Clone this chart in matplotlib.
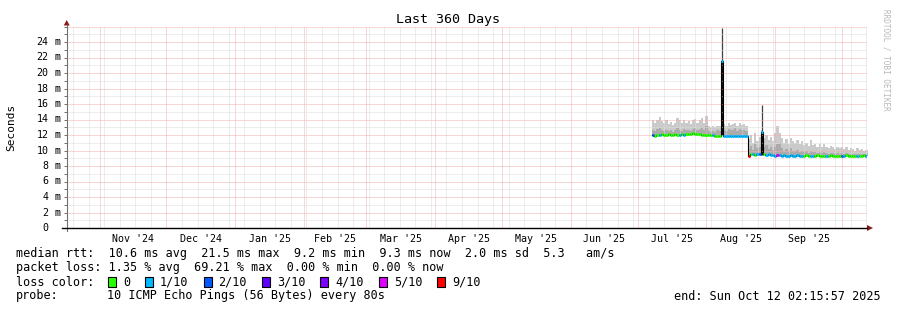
import numpy as np
import matplotlib
matplotlib.use('Agg')
import matplotlib.pyplot as plt
import matplotlib.dates as mdates
from matplotlib.ticker import MultipleLocator, NullFormatter
from matplotlib.patches import Rectangle, Polygon
from matplotlib.lines import Line2D
from matplotlib.transforms import blended_transform_factory

W, H = 897, 310
plt.rcParams['font.family'] = 'DejaVu Sans Mono'

# time window of the graph (360 days)
start = np.datetime64('2024-10-17T02:15:57')
end = np.datetime64('2025-10-12T02:15:57')
first_bin = np.datetime64('2025-07-07T12:00')   # first day with data

# daily median rtt (ms), Jul 7 .. Aug 18 and Aug 19 .. Oct 11
median_jul_aug = [12.0, 11.9, 12.0, 12.0, 12.1, 12.0, 12.0, 12.1, 12.0, 12.0,
                  12.1, 12.0, 12.0, 12.1, 12.0, 12.1, 12.1, 12.1, 12.2, 12.1,
                  12.1, 12.1, 12.0, 12.0, 12.0, 12.0, 12.0, 12.0, 11.9, 11.9,
                  11.9, 21.5, 11.9, 11.9, 11.9, 11.9, 11.9, 11.9, 11.9, 11.9,
                  11.9, 11.9, 11.9]
median_aug_oct = [9.3, 9.5, 9.6, 9.4, 9.5, 9.6, 12.4, 9.5, 9.4, 9.5,
                  9.4, 9.4, 9.3, 9.4, 9.4, 9.3, 9.4, 9.3, 9.3, 9.4,
                  9.3, 9.3, 9.4, 9.3, 9.3, 9.3, 9.4, 9.3, 9.3, 9.3,
                  9.3, 9.4, 9.3, 9.3, 9.3, 9.3, 9.3, 9.4, 9.3, 9.3,
                  9.3, 9.3, 9.3, 9.3, 9.4, 9.3, 9.3, 9.3, 9.3, 9.3,
                  9.3, 9.3, 9.4, 9.3]

# upper edge of the smoke (slowest ping, ms)
smoke_hi_jul_aug = [13.9, 13.6, 14.0, 14.3, 13.8, 13.5, 13.9, 13.4, 13.7, 13.3,
                    13.6, 14.2, 13.9, 13.5, 14.0, 13.6, 13.8, 13.4, 13.9, 14.1,
                    13.6, 14.0, 14.2, 13.5, 14.4, 13.2, 13.0, 13.1, 13.0, 13.2,
                    13.1, 21.5, 13.4, 13.2, 13.5, 13.3, 13.4, 13.6, 13.2, 13.5,
                    13.3, 13.4, 13.2]
smoke_hi_aug_oct = [11.5, 12.0, 11.0, 12.3, 11.2, 11.8, 12.6, 11.6, 12.0, 11.4,
                    11.8, 11.2, 12.3, 13.1, 12.2, 11.6, 11.0, 11.5, 10.9, 11.6,
                    11.2, 11.0, 11.4, 10.8, 11.2, 10.7, 11.0, 10.6, 11.3, 10.7,
                    10.9, 10.5, 10.8, 10.4, 10.9, 10.5, 10.3, 10.6, 10.4, 10.2,
                    10.5, 10.3, 10.4, 10.2, 10.4, 10.1, 10.3, 10.2, 10.0, 10.3,
                    10.1, 10.2, 10.0, 10.1]

# inner (denser) part of the smoke
smoke_mid_jul_aug = [12.6, 12.5, 12.8, 12.9, 12.6, 12.5, 12.7, 12.5, 12.6, 12.4,
                     12.6, 12.9, 12.7, 12.5, 12.8, 12.6, 12.7, 12.5, 12.8, 12.9,
                     12.6, 12.8, 13.0, 12.6, 13.1, 12.5, 12.4, 12.5, 12.4, 12.6,
                     12.5, 21.5, 12.7, 12.5, 12.8, 12.6, 12.7, 12.9, 12.5, 12.8,
                     12.6, 12.7, 12.5]
smoke_mid_aug_oct = [10.2, 10.6, 10.1, 10.8, 10.3, 10.5, 12.4, 10.4, 10.7, 10.2,
                     10.5, 10.1, 10.4, 10.9, 11.0, 10.3, 10.0, 10.2, 9.9, 10.3,
                     10.0, 9.9, 10.1, 9.8, 10.0, 9.8, 9.9, 9.7, 10.0, 9.8,
                     9.8, 9.7, 9.8, 9.7, 9.8, 9.7, 9.6, 9.7, 9.7, 9.6,
                     9.7, 9.6, 9.7, 9.6, 9.7, 9.6, 9.6, 9.6, 9.5, 9.6,
                     9.6, 9.6, 9.5, 9.6]

# lost pings out of 10
loss_jul_aug = [2, 0, 0, 1, 0, 0, 0, 0, 0, 0,
                0, 0, 1, 0, 1, 0, 0, 0, 0, 0,
                0, 0, 0, 0, 0, 0, 0, 1, 0, 0,
                0, 1, 1, 1, 1, 1, 1, 1, 1, 1,
                1, 1, 1]
loss_aug_oct = [9, 0, 1, 0, 1, 2, 1, 0, 1, 1,
                1, 1, 1, 5, 1, 1, 1, 1, 1, 1,
                1, 1, 1, 1, 1, 0, 0, 0, 1, 1,
                0, 0, 0, 0, 0, 1, 0, 0, 0, 0,
                0, 0, 2, 1, 0, 0, 0, 0, 0, 1,
                0, 0, 0, 1]

# the two spikes: black bar up to the median, thin line up to max ping
spike_time = ['2025-08-08T00:00', '2025-08-26T00:00']
spike_low = [12.0, 9.4]
spike_med = [21.5, 12.4]
spike_high = [25.8, 15.9]

loss_levels = [0, 1, 2, 3, 4, 5, 9]
loss_labels = ['0', '1/10', '2/10', '3/10', '4/10', '5/10', '9/10']
loss_colors = ['#26ff00', '#00b8ff', '#0059ff', '#5e00ff', '#7e00ff', '#dd00ff', '#ff0000']

month_starts = ['2024-11-01', '2024-12-01', '2025-01-01', '2025-02-01', '2025-03-01',
                '2025-04-01', '2025-05-01', '2025-06-01', '2025-07-01', '2025-08-01',
                '2025-09-01', '2025-10-01']
month_labels = ["Nov '24", "Dec '24", "Jan '25", "Feb '25", "Mar '25", "Apr '25",
                "May '25", "Jun '25", "Jul '25", "Aug '25", "Sep '25"]

y_ticks = [0, 2, 4, 6, 8, 10, 12, 14, 16, 18, 20, 22, 24]

rtt_line = "median rtt:  10.6 ms avg  21.5 ms max  9.2 ms min  9.3 ms now  2.0 ms sd  5.3   am/s"
loss_line = "packet loss: 1.35 % avg  69.21 % max  0.00 % min  0.00 % now"
probe_text = "10 ICMP Echo Pings (56 Bytes) every 80s"
end_text = "end: Sun Oct 12 02:15:57 2025"

# ---------------------------------------------------------------------------
median = np.array(median_jul_aug + median_aug_oct)
smoke_hi = np.array(smoke_hi_jul_aug + smoke_hi_aug_oct)
smoke_mid = np.array(smoke_mid_jul_aug + smoke_mid_aug_oct)
loss = np.array(loss_jul_aug + loss_aug_oct)
n = len(median)
edges = mdates.date2num(first_bin + np.arange(n + 1) * np.timedelta64(1, 'D'))

def fx(x):
    return x / W

def fy(y):
    return 1 - y / H

fig = plt.figure(figsize=(W / 100, H / 100), dpi=100)
fig.patch.set_facecolor('white')
ax = fig.add_axes([fx(66.7), fy(228), 800 / W, 201.5 / H])
ax.set_xlim(mdates.date2num(start), mdates.date2num(end))
ax.set_ylim(0, 26)
for s in ax.spines.values():
    s.set_visible(False)

# smoke
ext = lambda a: np.append(a, a[-1])
ax.fill_between(edges, ext(median), ext(smoke_hi), step='post', color='#CACACA', lw=0, zorder=1)
ax.fill_between(edges, ext(median), ext(smoke_mid), step='post', color='#ABABAB', lw=0, zorder=1.1)

# spikes
st = mdates.date2num(np.array(spike_time, dtype='datetime64[m]'))
ax.vlines(st, spike_med, spike_high, color='#404040', lw=0.9, zorder=2)
ax.vlines(st, spike_low, spike_med, color='#111111', lw=2.0, zorder=2)

# median line, black for the jumps, coloured by loss on each day
ax.step(edges, ext(median), where='post', color='black', lw=0.8, zorder=3)
cmap = dict(zip(loss_levels, loss_colors))
ax.hlines(median, edges[:-1], edges[1:], colors=[cmap[v] for v in loss],
          lw=2.0, zorder=4)

# grid
ax.xaxis.set_major_locator(mdates.MonthLocator())
ax.xaxis.set_minor_locator(mdates.WeekdayLocator(byweekday=mdates.SU))
ax.yaxis.set_major_locator(MultipleLocator(2))
ax.yaxis.set_minor_locator(MultipleLocator(1))
ax.xaxis.set_major_formatter(NullFormatter())
ax.yaxis.set_major_formatter(NullFormatter())
ax.set_axisbelow(False)
ax.grid(which='minor', color='#DCDCDC', ls=(0, (1, 1)), lw=0.72, zorder=2.5)
ax.grid(which='major', color='#F4B0B0', ls=(0, (1, 1)), lw=0.72, zorder=2.6)
ax.tick_params(axis='x', which='both', length=0)
ax.tick_params(axis='y', which='both', length=2, width=0.7, color='#707070', pad=0)

# axes lines and arrows
fig.add_artist(Line2D([fx(66.7), fx(66.7)], [fy(231), fy(25)], color='#707070', lw=0.8))
fig.add_artist(Line2D([fx(62), fx(867)], [fy(228), fy(228)], color='black', lw=1.0))
fig.add_artist(Polygon([[fx(63.7), fy(25.5)], [fx(69.7), fy(25.5)], [fx(66.7), fy(20)]],
                       closed=True, color='#8B1A1A', lw=0))
fig.add_artist(Polygon([[fx(867), fy(225)], [fx(867), fy(231)], [fx(873), fy(228)]],
                       closed=True, color='#8B1A1A', lw=0))

# y labels: number right aligned, unit after it
ty = blended_transform_factory(fig.transFigure, ax.transData)
for v in y_ticks:
    fig.text(fx(48.5), v, str(v), transform=ty, ha='right', va='center', fontsize=7.2)
    if v:
        fig.text(fx(54), v, 'm', transform=ty, ha='left', va='center', fontsize=7.2)

# month labels centred in each month
tx = blended_transform_factory(ax.transData, fig.transFigure)
ms = mdates.date2num(np.array(month_starts, dtype='datetime64[D]'))
for i, lab in enumerate(month_labels):
    ax.text((ms[i] + ms[i + 1]) / 2, fy(238.5), lab, transform=tx, ha='center',
            va='center', fontsize=7.2)

fig.text(fx(448), fy(19), 'Last 360 Days', ha='center', va='center', fontsize=9.6)
fig.text(fx(11), fy(127), 'Seconds', rotation=90, ha='center', va='center', fontsize=8)
fig.text(fx(886), fy(60), 'RRDTOOL / TOBI OETIKER', rotation=270, ha='center',
         va='center', fontsize=5.5, color='#B8B8B8')

# legend
fig.text(fx(16), fy(254), rtt_line, ha='left', va='center', fontsize=8.5)
fig.text(fx(16), fy(268), loss_line, ha='left', va='center', fontsize=8.5)
fig.text(fx(16), fy(282), 'loss color:', ha='left', va='center', fontsize=8.5)
x = 108
for lab, col in zip(loss_labels, loss_colors):
    fig.add_artist(Rectangle((fx(x), fy(287)), 8 / W, 10 / H, facecolor=col,
                             edgecolor='black', lw=0.8))
    fig.text(fx(x + 15), fy(282), lab, ha='left', va='center', fontsize=8.5)
    x += 15 + len(lab) * 7.1 + 15
fig.text(fx(16), fy(296), 'probe:', ha='left', va='center', fontsize=8.5)
fig.text(fx(107), fy(296), probe_text, ha='left', va='center', fontsize=8.5)
fig.text(fx(881), fy(296), end_text, ha='right', va='center', fontsize=8.5)

fig.savefig('out.png', dpi=100)
